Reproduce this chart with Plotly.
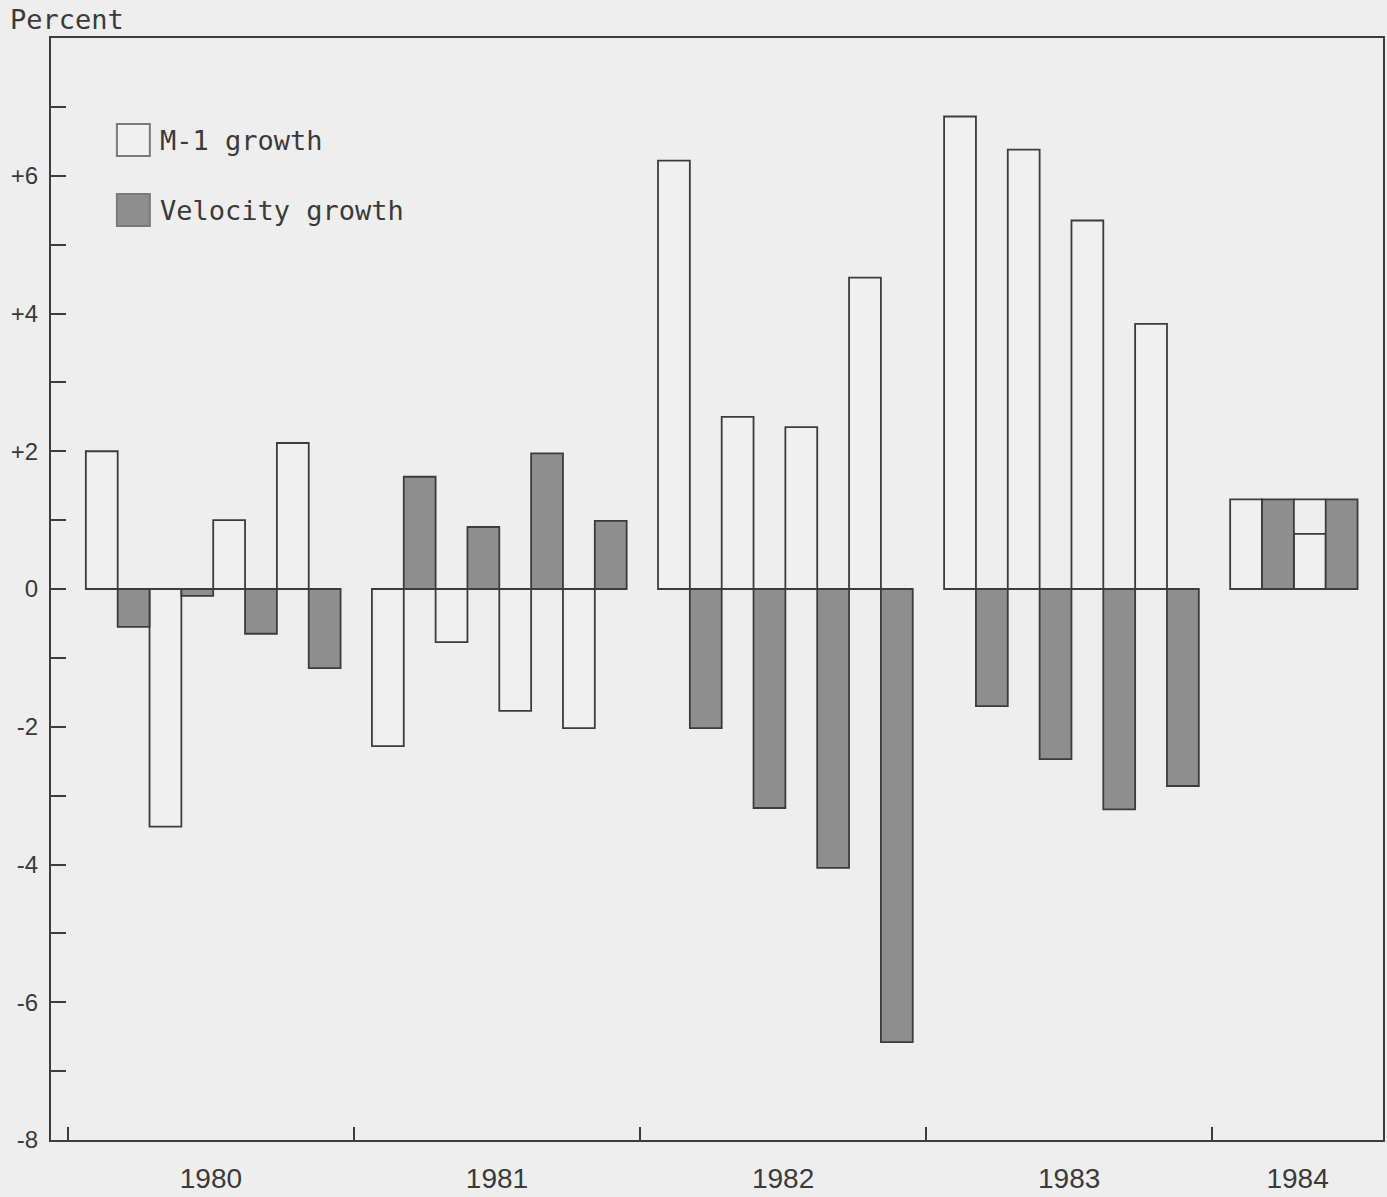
import plotly.graph_objects as go

# ---- data ----
years = ["1980", "1981", "1982", "1983", "1984"]
quarters_per_year = [4, 4, 4, 4, 2]
m1_growth = [2.0, -3.45, 1.0, 2.12,
             -2.28, -0.77, -1.77, -2.02,
             6.22, 2.5, 2.35, 4.52,
             6.86, 6.38, 5.35, 3.85,
             1.3, 0.8]
velocity_growth = [-0.55, -0.1, -0.65, -1.15,
                   1.63, 0.9, 1.97, 0.99,
                   -2.02, -3.18, -4.05, -6.58,
                   -1.7, -2.47, -3.2, -2.86,
                   1.3, 1.3]
y_tickvals = [-8, -6, -4, -2, 0, 2, 4, 6]
y_ticktext = ["-8", "-6", "-4", "-2", "0", "+2", "+4", "+6"]

# ---- styling / layout constants ----
W, H = 1387, 1197
ML, MR, MT, MB = 51, 2, 38, 57
BG = "#eeeeee"
LIGHT = "#f0f0f0"
DARK = "#8e8e8e"
EDGE = "#3c3c3c"
TXT = "#3a3a3a"

bar_w = 0.1113          # width of one bar in year units
pad = 0.0628            # gap between year boundary and first bar
x_range = [-0.059, 4.597]

x_centers = []
for yi, nq in enumerate(quarters_per_year):
    for q in range(nq):
        x_centers.append(yi + pad + q * 2 * bar_w + bar_w)

# year label positions: centre of each year's visible span
label_pos = [min(i + 1, x_range[1]) / 2 + i / 2 for i in range(len(years))]

fig = go.Figure()
fig.add_trace(go.Bar(
    x=x_centers, y=m1_growth, width=bar_w, offset=-bar_w,
    name="M-1 growth",
    marker=dict(color=LIGHT, line=dict(color=EDGE, width=1.8)),
))
fig.add_trace(go.Bar(
    x=x_centers, y=velocity_growth, width=bar_w, offset=0,
    name="Velocity growth",
    marker=dict(color=DARK, line=dict(color=EDGE, width=1.8)),
))

# 1984 box top over the M-1 bar (bar drawn below the velocity level)
last_year_start = len(m1_growth) - quarters_per_year[-1]
for i in range(last_year_start, len(m1_growth)):
    if m1_growth[i] < velocity_growth[i]:
        fig.add_shape(type="line", xref="x", yref="y",
                      x0=x_centers[i] - bar_w, x1=x_centers[i],
                      y0=velocity_growth[i], y1=velocity_growth[i],
                      line=dict(color=EDGE, width=1.8))

plot_w = W - ML - MR
plot_h = H - MT - MB


def px_x(p):
    return (p - ML) / plot_w


def px_y(p):
    return (H - MB - p) / plot_h


# custom legend with large swatches
legend_items = [("M-1 growth", LIGHT, 140), ("Velocity growth", DARK, 210)]
for label, col, cy in legend_items:
    fig.add_shape(type="rect", xref="paper", yref="paper",
                  x0=px_x(117), x1=px_x(150), y0=px_y(cy + 16), y1=px_y(cy - 16),
                  fillcolor=col, line=dict(color="#7a7a7a", width=2))
    fig.add_annotation(xref="paper", yref="paper", x=px_x(158), y=px_y(cy),
                       xanchor="left", yanchor="middle", showarrow=False,
                       text=label,
                       font=dict(family="DejaVu Sans Mono", size=27, color=TXT))

fig.add_annotation(xref="paper", yref="paper", x=px_x(8), y=px_y(19),
                   xanchor="left", yanchor="middle", showarrow=False,
                   text="Percent",
                   font=dict(family="DejaVu Sans Mono", size=27, color=TXT))

fig.update_layout(
    width=W, height=H,
    margin=dict(l=ML, r=MR, t=MT, b=MB),
    paper_bgcolor=BG, plot_bgcolor=BG,
    showlegend=False,
    barmode="overlay",
    font=dict(family="Liberation Sans", color=TXT),
)
fig.update_xaxes(
    range=x_range,
    tickmode="array",
    tickvals=label_pos,
    ticktext=years,
    ticks="",
    tickfont=dict(size=28, color=TXT),
    ticklabelstandoff=12,
    minor=dict(ticks="inside", tick0=0, dtick=1, ticklen=13, tickwidth=2, tickcolor=EDGE),
    showgrid=False, zeroline=False,
    showline=True, mirror=True, linecolor=EDGE, linewidth=2,
)
fig.update_yaxes(
    range=[-8, 8],
    tickmode="array",
    tickvals=y_tickvals,
    ticktext=y_ticktext,
    ticks="inside", ticklen=15, tickwidth=2, tickcolor=EDGE,
    minor=dict(ticks="inside", tick0=-7, dtick=2, ticklen=15, tickwidth=2, tickcolor=EDGE),
    tickfont=dict(size=24, color=TXT),
    ticklabelstandoff=6,
    showgrid=False, zeroline=False,
    showline=True, mirror=True, linecolor=EDGE, linewidth=2,
)

fig.write_html("out.html",
               config={"displayModeBar": False},
               post_script="document.body.style.margin='0';document.body.style.overflow='hidden';")
